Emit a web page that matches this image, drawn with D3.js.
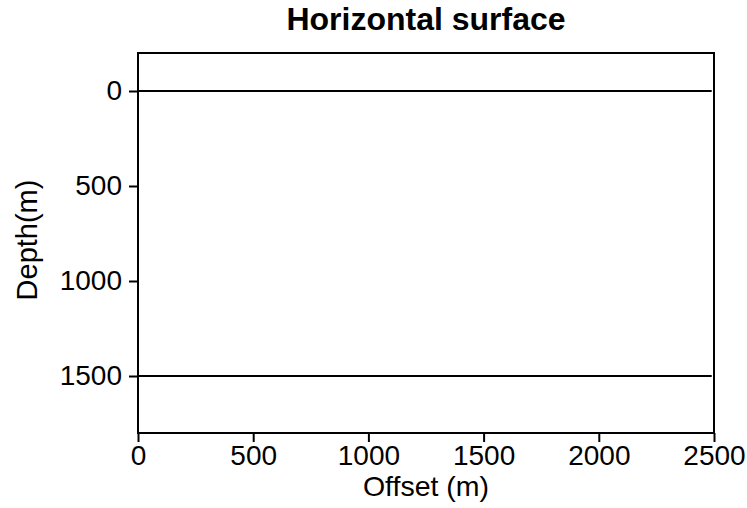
<!DOCTYPE html>
<html>
<head>
<meta charset="utf-8">
<script src="https://cdn.jsdelivr.net/npm/d3@7"></script>
<style>
  body { margin: 0; background: #fff; }
  text { font-family: "Liberation Sans", Arial, sans-serif; }
</style>
</head>
<body>
<div id="chart"></div>
<script>
// Data
let offsets = [0, 2490]
let surfaceDepths = [0, 1500]
let xTicks = [0, 500, 1000, 1500, 2000, 2500]
let yTicks = [0, 500, 1000, 1500]

let margin = { top: 53, left: 138, right: 33, bottom: 75 }
let width = 747 - margin.left - margin.right
let height = 508 - margin.top - margin.bottom

let svg = d3.select('#chart')
  .append('svg')
  .attr('width', 747)
  .attr('height', 508)

let g = svg.append('g')
  .attr('transform', `translate(${margin.left},${margin.top})`)

let x = d3.scaleLinear().domain([0, 2500]).range([0, width])
let y = d3.scaleLinear().domain([-200, 1800]).range([0, height])

let line = d3.line()
  .x(d => x(d[0]))
  .y(d => y(d[1]))

// surfaces
surfaceDepths.forEach(depth => {
  g.append('path')
    .datum(offsets.map(o => [o, depth]))
    .attr('d', line)
    .attr('fill', 'none')
    .attr('stroke', '#000')
    .attr('stroke-width', 2)
})

// axes
let xAxis = d3.axisBottom(x).tickValues(xTicks).tickFormat(d3.format('d'))
  .tickSize(9).tickSizeOuter(0).tickPadding(3)
let yAxis = d3.axisLeft(y).tickValues(yTicks).tickFormat(d3.format('d'))
  .tickSize(9).tickSizeOuter(0).tickPadding(7)

g.append('g')
  .attr('class', 'axis x-axis')
  .attr('transform', `translate(0,${height})`)
  .call(xAxis)

g.append('g')
  .attr('class', 'axis y-axis')
  .call(yAxis)

g.selectAll('.axis .domain').remove()
g.selectAll('.axis').attr('font-size', 28).attr('font-family', null)
g.selectAll('.axis line').attr('stroke', '#000').attr('stroke-width', 2)
g.selectAll('.axis text').attr('fill', '#000')

// frame
g.append('rect')
  .attr('x', 0)
  .attr('y', 0)
  .attr('width', width)
  .attr('height', height)
  .attr('fill', 'none')
  .attr('stroke', '#000')
  .attr('stroke-width', 2)

// labels
svg.append('text')
  .text('Horizontal surface')
  .attr('x', margin.left + width / 2)
  .attr('y', 30)
  .attr('text-anchor', 'middle')
  .attr('font-size', 32)
  .attr('font-weight', 'bold')

svg.append('text')
  .text('Offset (m)')
  .attr('x', margin.left + width / 2)
  .attr('y', 496)
  .attr('text-anchor', 'middle')
  .attr('font-size', 28.5)

svg.append('text')
  .text('Depth(m)')
  .attr('transform', `translate(37,${margin.top + height / 2 - 3}) rotate(-90)`)
  .attr('text-anchor', 'middle')
  .attr('font-size', 29)
</script>
</body>
</html>
